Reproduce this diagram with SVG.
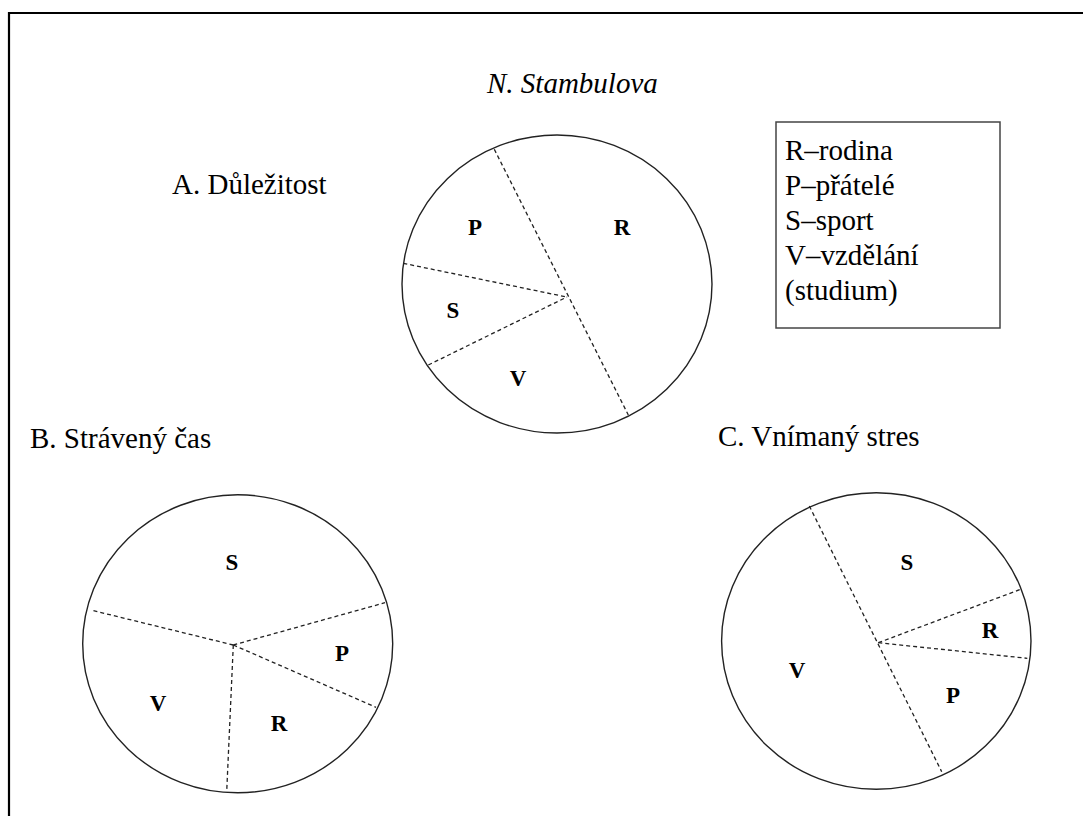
<svg xmlns="http://www.w3.org/2000/svg" width="1083" height="816" viewBox="0 0 1083 816">
<style>
.t{font-family:"Liberation Serif","Times New Roman",serif;font-size:29px;fill:#000}
.it{font-family:"Liberation Serif","Times New Roman",serif;font-size:29px;font-style:italic;fill:#000}
.lb{font-family:"Liberation Serif","Times New Roman",serif;font-size:23px;font-weight:bold;text-anchor:middle;fill:#000}
.pie{fill:#fff;stroke:#222;stroke-width:1.4}
.d{stroke:#222;stroke-width:1.3;stroke-dasharray:4 3;fill:none}
</style>
<rect width="1083" height="816" fill="#fff"/>
<path d="M9,816 V13 H1083" fill="none" stroke="#000" stroke-width="2.2"/>
<text class="it" x="487" y="93">N. Stambulova</text>
<g id="legend">
<rect x="776" y="122" width="224" height="206" fill="#fff" stroke="#444" stroke-width="1.5"/>
<text class="t" x="785" y="160">R–rodina</text>
<text class="t" x="785" y="195">P–přátelé</text>
<text class="t" x="785" y="230">S–sport</text>
<text class="t" x="785" y="265">V–vzdělání</text>
<text class="t" x="785" y="300">(studium)</text>
</g>
<g id="pieA">
<text class="t" x="172" y="194">A. Důležitost</text>
<ellipse class="pie" cx="557" cy="284" rx="155" ry="149"/>
<text class="lb" x="475" y="235">P</text>
<text class="lb" x="622" y="235">R</text>
<text class="lb" x="453" y="318">S</text>
<text class="lb" x="518" y="386">V</text>
</g>
<g id="pieB">
<text class="t" x="30" y="448">B. Strávený čas</text>
<ellipse class="pie" cx="237.7" cy="643.8" rx="155" ry="149"/>
<text class="lb" x="232" y="570">S</text>
<text class="lb" x="342" y="661">P</text>
<text class="lb" x="158" y="711">V</text>
<text class="lb" x="279" y="731">R</text>
</g>
<g id="pieC">
<text class="t" x="718" y="446">C. Vnímaný stres</text>
<ellipse class="pie" cx="876.3" cy="641" rx="154.7" ry="148.3"/>
<text class="lb" x="907" y="570">S</text>
<text class="lb" x="990" y="638">R</text>
<text class="lb" x="797" y="678">V</text>
<text class="lb" x="953" y="703">P</text>
</g>
<g id="connectors">
<line class="d" x1="494.3" y1="149.3" x2="628.3" y2="415"/>
<line class="d" x1="403.3" y1="263.3" x2="566.7" y2="297"/>
<line class="d" x1="428.3" y1="365" x2="567" y2="297"/>
<line class="d" x1="233.3" y1="645" x2="90.7" y2="610"/>
<line class="d" x1="233.3" y1="645" x2="385" y2="602.7"/>
<line class="d" x1="233.3" y1="645" x2="376" y2="707.3"/>
<line class="d" x1="233.3" y1="645" x2="226.7" y2="791.7"/>
<line class="d" x1="809.3" y1="506" x2="941.7" y2="771.7"/>
<line class="d" x1="878.3" y1="642.7" x2="1020.7" y2="589.3"/>
<line class="d" x1="878.3" y1="642.7" x2="1027.3" y2="658.3"/>
</g>
</svg>
